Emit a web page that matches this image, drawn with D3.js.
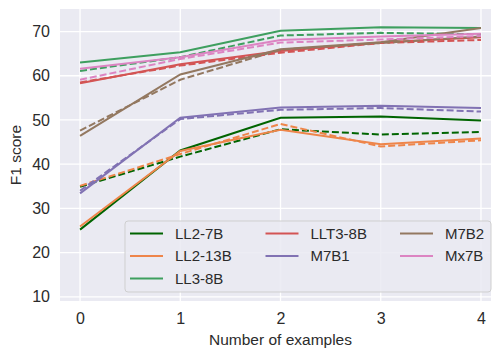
<!DOCTYPE html>
<html>
<head>
<meta charset="utf-8">
<script src="https://d3js.org/d3.v7.min.js"></script>
<style>
  body { margin: 0; background: #fff; }
  text { font-family: "Liberation Sans", Arial, sans-serif; fill: #2b2b2b; }
</style>
</head>
<body>
<script>
// number of in-context examples
var shots = [0, 1, 2, 3, 4];
var models = ["LL2-7B", "LL2-13B", "LL3-8B", "LLT3-8B", "M7B1", "M7B2", "Mx7B"];
var colors = ["#006400", "#ee854a", "#3e9f5f", "#d35454", "#8172b3", "#937860", "#dc84c2"];
var yTicks = [10, 20, 30, 40, 50, 60, 70];

// solid lines
var solid = [
  [25.2, 43.1, 50.5, 50.8, 49.9],
  [25.9, 43.0, 47.8, 44.5, 45.8],
  [63.0, 65.3, 70.2, 71.0, 70.8],
  [58.3, 62.6, 65.6, 67.5, 68.7],
  [33.4, 50.5, 52.8, 53.2, 52.7],
  [46.4, 60.3, 66.0, 67.6, 70.8],
  [61.6, 64.2, 68.1, 68.9, 69.5]
];
// dashed lines
var dashed = [
  [34.9, 41.7, 47.9, 46.7, 47.3],
  [35.1, 42.3, 49.1, 44.0, 45.4],
  [61.1, 64.2, 69.1, 69.7, 69.4],
  [58.5, 62.3, 65.2, 67.4, 68.1],
  [34.0, 50.2, 52.3, 52.7, 51.9],
  [47.6, 59.1, 65.9, 67.4, 68.9],
  [59.1, 63.8, 67.5, 68.2, 69.0]
];

var W = 494, H = 351;
var mL = 60, mR = 491, mT = 9, mB = 301;

var svg = d3.select("body").append("svg").attr("width", W).attr("height", H);

var x = d3.scaleLinear().domain([-0.2, 4.1]).range([mL, mR]);
var y = d3.scaleLinear().domain([9.05, 75.1]).range([mB, mT]);

svg.append("rect").attr("x", mL).attr("y", mT)
  .attr("width", mR - mL).attr("height", mB - mT).attr("fill", "#eaeaf2");

// grid
svg.append("g").selectAll("line").data(yTicks).enter().append("line")
  .attr("x1", mL).attr("x2", mR)
  .attr("y1", function(d){ return y(d); }).attr("y2", function(d){ return y(d); })
  .attr("stroke", "#fff").attr("stroke-width", 1.3);
svg.append("g").selectAll("line").data(shots).enter().append("line")
  .attr("y1", mT).attr("y2", mB)
  .attr("x1", function(d){ return x(d); }).attr("x2", function(d){ return x(d); })
  .attr("stroke", "#fff").attr("stroke-width", 1.3);

// axes (labels only, seaborn style)
var xAxis = d3.axisBottom(x).tickValues(shots).tickFormat(d3.format("d")).tickSize(0).tickPadding(12);
var yAxis = d3.axisLeft(y).tickValues(yTicks).tickFormat(d3.format("d")).tickSize(0).tickPadding(10);
var gx = svg.append("g").attr("transform", "translate(0," + mB + ")").call(xAxis);
var gy = svg.append("g").attr("transform", "translate(" + mL + ",0)").call(yAxis);
[gx, gy].forEach(function(g){
  g.select(".domain").remove();
  g.selectAll("text").style("font-size", "16px").attr("fill", "#2b2b2b")
    .style("font-family", "'Liberation Sans', Arial, sans-serif");
});

svg.append("text").attr("x", (mL + mR) / 2 + 5).attr("y", 345)
  .attr("text-anchor", "middle").style("font-size", "15.5px").text("Number of examples");
svg.append("text").attr("transform", "translate(21," + ((mT + mB) / 2) + ") rotate(-90)")
  .attr("text-anchor", "middle").style("font-size", "15.5px").text("F1 score");

var line = d3.line()
  .x(function(d, i){ return x(shots[i]); })
  .y(function(d){ return y(d); });

var plot = svg.append("g");
models.forEach(function(m, k){
  plot.append("path").attr("d", line(dashed[k])).attr("fill", "none")
    .attr("stroke", colors[k]).attr("stroke-width", 2).attr("stroke-dasharray", "7,3");
  plot.append("path").attr("d", line(solid[k])).attr("fill", "none")
    .attr("stroke", colors[k]).attr("stroke-width", 2);
});

// legend
var lg = svg.append("g");
lg.append("rect").attr("x", 125).attr("y", 221).attr("width", 366).attr("height", 71)
  .attr("rx", 3).attr("fill", "#eaeaf2").attr("fill-opacity", 0.85)
  .attr("stroke", "#cfcfcf").attr("stroke-width", 1);
var colX = [130, 265.5, 400];
var rowY = [233.5, 256, 278.5];
var slots = [[0,0],[0,1],[0,2],[1,0],[1,1],[2,0],[2,1]];
models.forEach(function(m, k){
  var c = slots[k][0], r = slots[k][1];
  lg.append("line").attr("x1", colX[c]).attr("x2", colX[c] + 33)
    .attr("y1", rowY[r]).attr("y2", rowY[r])
    .attr("stroke", colors[k]).attr("stroke-width", 2);
  lg.append("text").attr("x", colX[c] + 45).attr("y", rowY[r]).attr("dy", "0.35em")
    .style("font-size", "15px").text(m);
});
</script>
</body>
</html>
